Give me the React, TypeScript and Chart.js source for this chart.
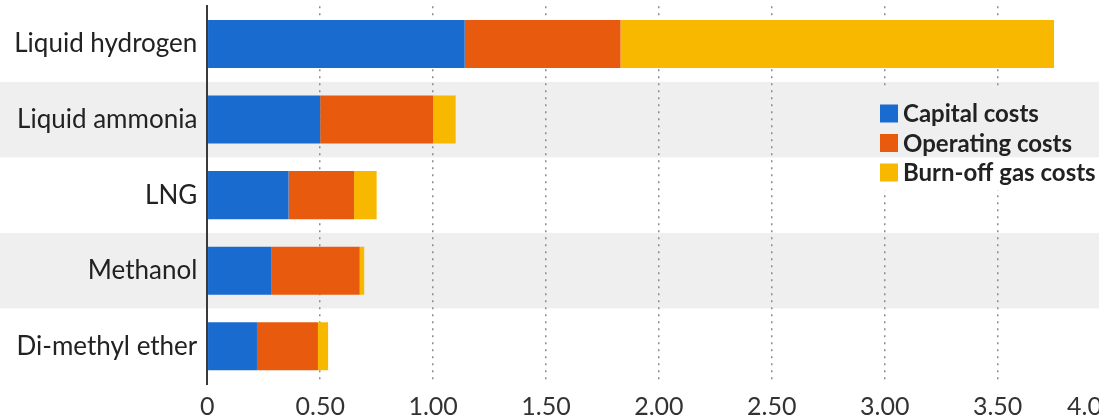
import React, { useEffect, useRef } from "react";
import { Chart, registerables } from "chart.js";

Chart.register(...registerables);

const categories = ["Liquid hydrogen", "Liquid ammonia", "LNG", "Methanol", "Di-methyl ether"];
const capitalCosts = [1.14, 0.5, 0.36, 0.285, 0.22];
const operatingCosts = [0.69, 0.5, 0.29, 0.39, 0.27];
const burnOffCosts = [1.92, 0.1, 0.1, 0.02, 0.045];
const seriesNames = ["Capital costs", "Operating costs", "Burn-off gas costs"];
const seriesColors = ["#1a6bd0", "#e85b0e", "#f9b800"];
const xTickValues = [0, 0.5, 1, 1.5, 2, 2.5, 3, 3.5, 4];

const BAND = "#efefef";
const shadedRows = [1, 3];

const bandsPlugin = {
  id: "bands",
  beforeDraw(chart: any) {
    const { ctx, chartArea, scales } = chart;
    const y = scales.y;
    const h = chartArea.height / categories.length;
    ctx.save();
    ctx.fillStyle = BAND;
    shadedRows.forEach((i) => {
      const c = y.getPixelForValue(i);
      ctx.fillRect(0, c - h / 2, chart.width, h);
    });
    ctx.restore();
  },
};

const legendPlugin = {
  id: "customLegend",
  afterDatasetsDraw(chart: any) {
    const { ctx, chartArea, scales } = chart;
    const y = scales.y;
    const h = chartArea.height / categories.length;
    const rx = 870, ry = 90, rw = chart.width - 870, rh = 100;
    ctx.save();
    ctx.fillStyle = "#ffffff";
    ctx.fillRect(rx, ry, rw, rh);
    ctx.fillStyle = BAND;
    shadedRows.forEach((i) => {
      const c = y.getPixelForValue(i);
      const top = Math.max(ry, c - h / 2);
      const bot = Math.min(ry + rh, c + h / 2);
      if (bot > top) ctx.fillRect(rx, top, rw, bot - top);
    });
    const rowCenters = [113.5, 143, 172.5];
    ctx.font = "bold 24px Lato";
    ctx.textBaseline = "middle";
    ctx.textAlign = "left";
    chart.data.datasets.forEach((ds: any, i: number) => {
      const cy = rowCenters[i];
      ctx.fillStyle = ds.backgroundColor;
      ctx.fillRect(880, cy - 9, 18, 18);
      ctx.fillStyle = "#222222";
      ctx.fillText(ds.label, 903, cy + 1);
    });
    ctx.restore();
  },
};

export default function App() {
  const ref = useRef<HTMLCanvasElement | null>(null);

  useEffect(() => {
    document.body.style.margin = "0";
    const canvas = ref.current;
    if (!canvas) return;
    const values = [capitalCosts, operatingCosts, burnOffCosts];
    const lastTick = xTickValues[xTickValues.length - 1];
    const chart = new Chart(canvas, {
      type: "bar",
      data: {
        labels: categories,
        datasets: seriesNames.map((name, i) => ({
          label: name,
          data: values[i],
          backgroundColor: seriesColors[i],
          borderWidth: 0,
          barPercentage: 0.636,
          categoryPercentage: 1,
        })),
      },
      options: {
        indexAxis: "y",
        animation: false,
        responsive: true,
        maintainAspectRatio: false,
        layout: { padding: { left: 0, right: 39.5, top: 6.25, bottom: 0 } },
        plugins: { legend: { display: false }, tooltip: { enabled: false } },
        scales: {
          x: {
            stacked: true,
            min: 0,
            max: 4,
            afterBuildTicks: (scale: any) => {
              scale.ticks = xTickValues.map((v) => ({ value: v }));
            },
            afterFit: (scale: any) => {
              scale.height = 36;
              scale.paddingLeft = 0;
              scale.paddingRight = 0;
            },
            grid: {
              display: true,
              drawTicks: false,
              lineWidth: 1.5,
              color: (c: any) => (c.tick && c.tick.value === 0 ? "rgba(0,0,0,0)" : "#8c8c8c"),
            },
            border: { display: false, dash: [2, 5] },
            ticks: {
              autoSkip: false,
              maxRotation: 0,
              padding: 8,
              color: "#333333",
              font: { family: "Lato", size: 25 },
              callback: (v: any) => {
                const n = Number(v);
                if (n === 0) return "0";
                const s = n.toFixed(2);
                return n === lastTick ? s + "\u2003\u2003" : s;
              },
            },
          },
          y: {
            stacked: true,
            afterFit: (scale: any) => {
              scale.width = 207.3;
              scale.paddingTop = 0;
              scale.paddingBottom = 0;
            },
            grid: { display: false, drawTicks: false },
            border: { display: true, color: "#3a3a3a", width: 2 },
            ticks: {
              padding: 10,
              color: "#222222",
              font: { family: "Lato", size: 26 },
            },
          },
        },
      },
      plugins: [bandsPlugin, legendPlugin],
    });
    return () => chart.destroy();
  }, []);

  return (
    <div style={{ position: "fixed", left: 0, top: 0, width: 1099, height: 420, overflow: "hidden", background: "#ffffff" }}>
      <div style={{ position: "relative", width: 1150, height: 420 }}>
        <canvas ref={ref} />
      </div>
    </div>
  );
}
